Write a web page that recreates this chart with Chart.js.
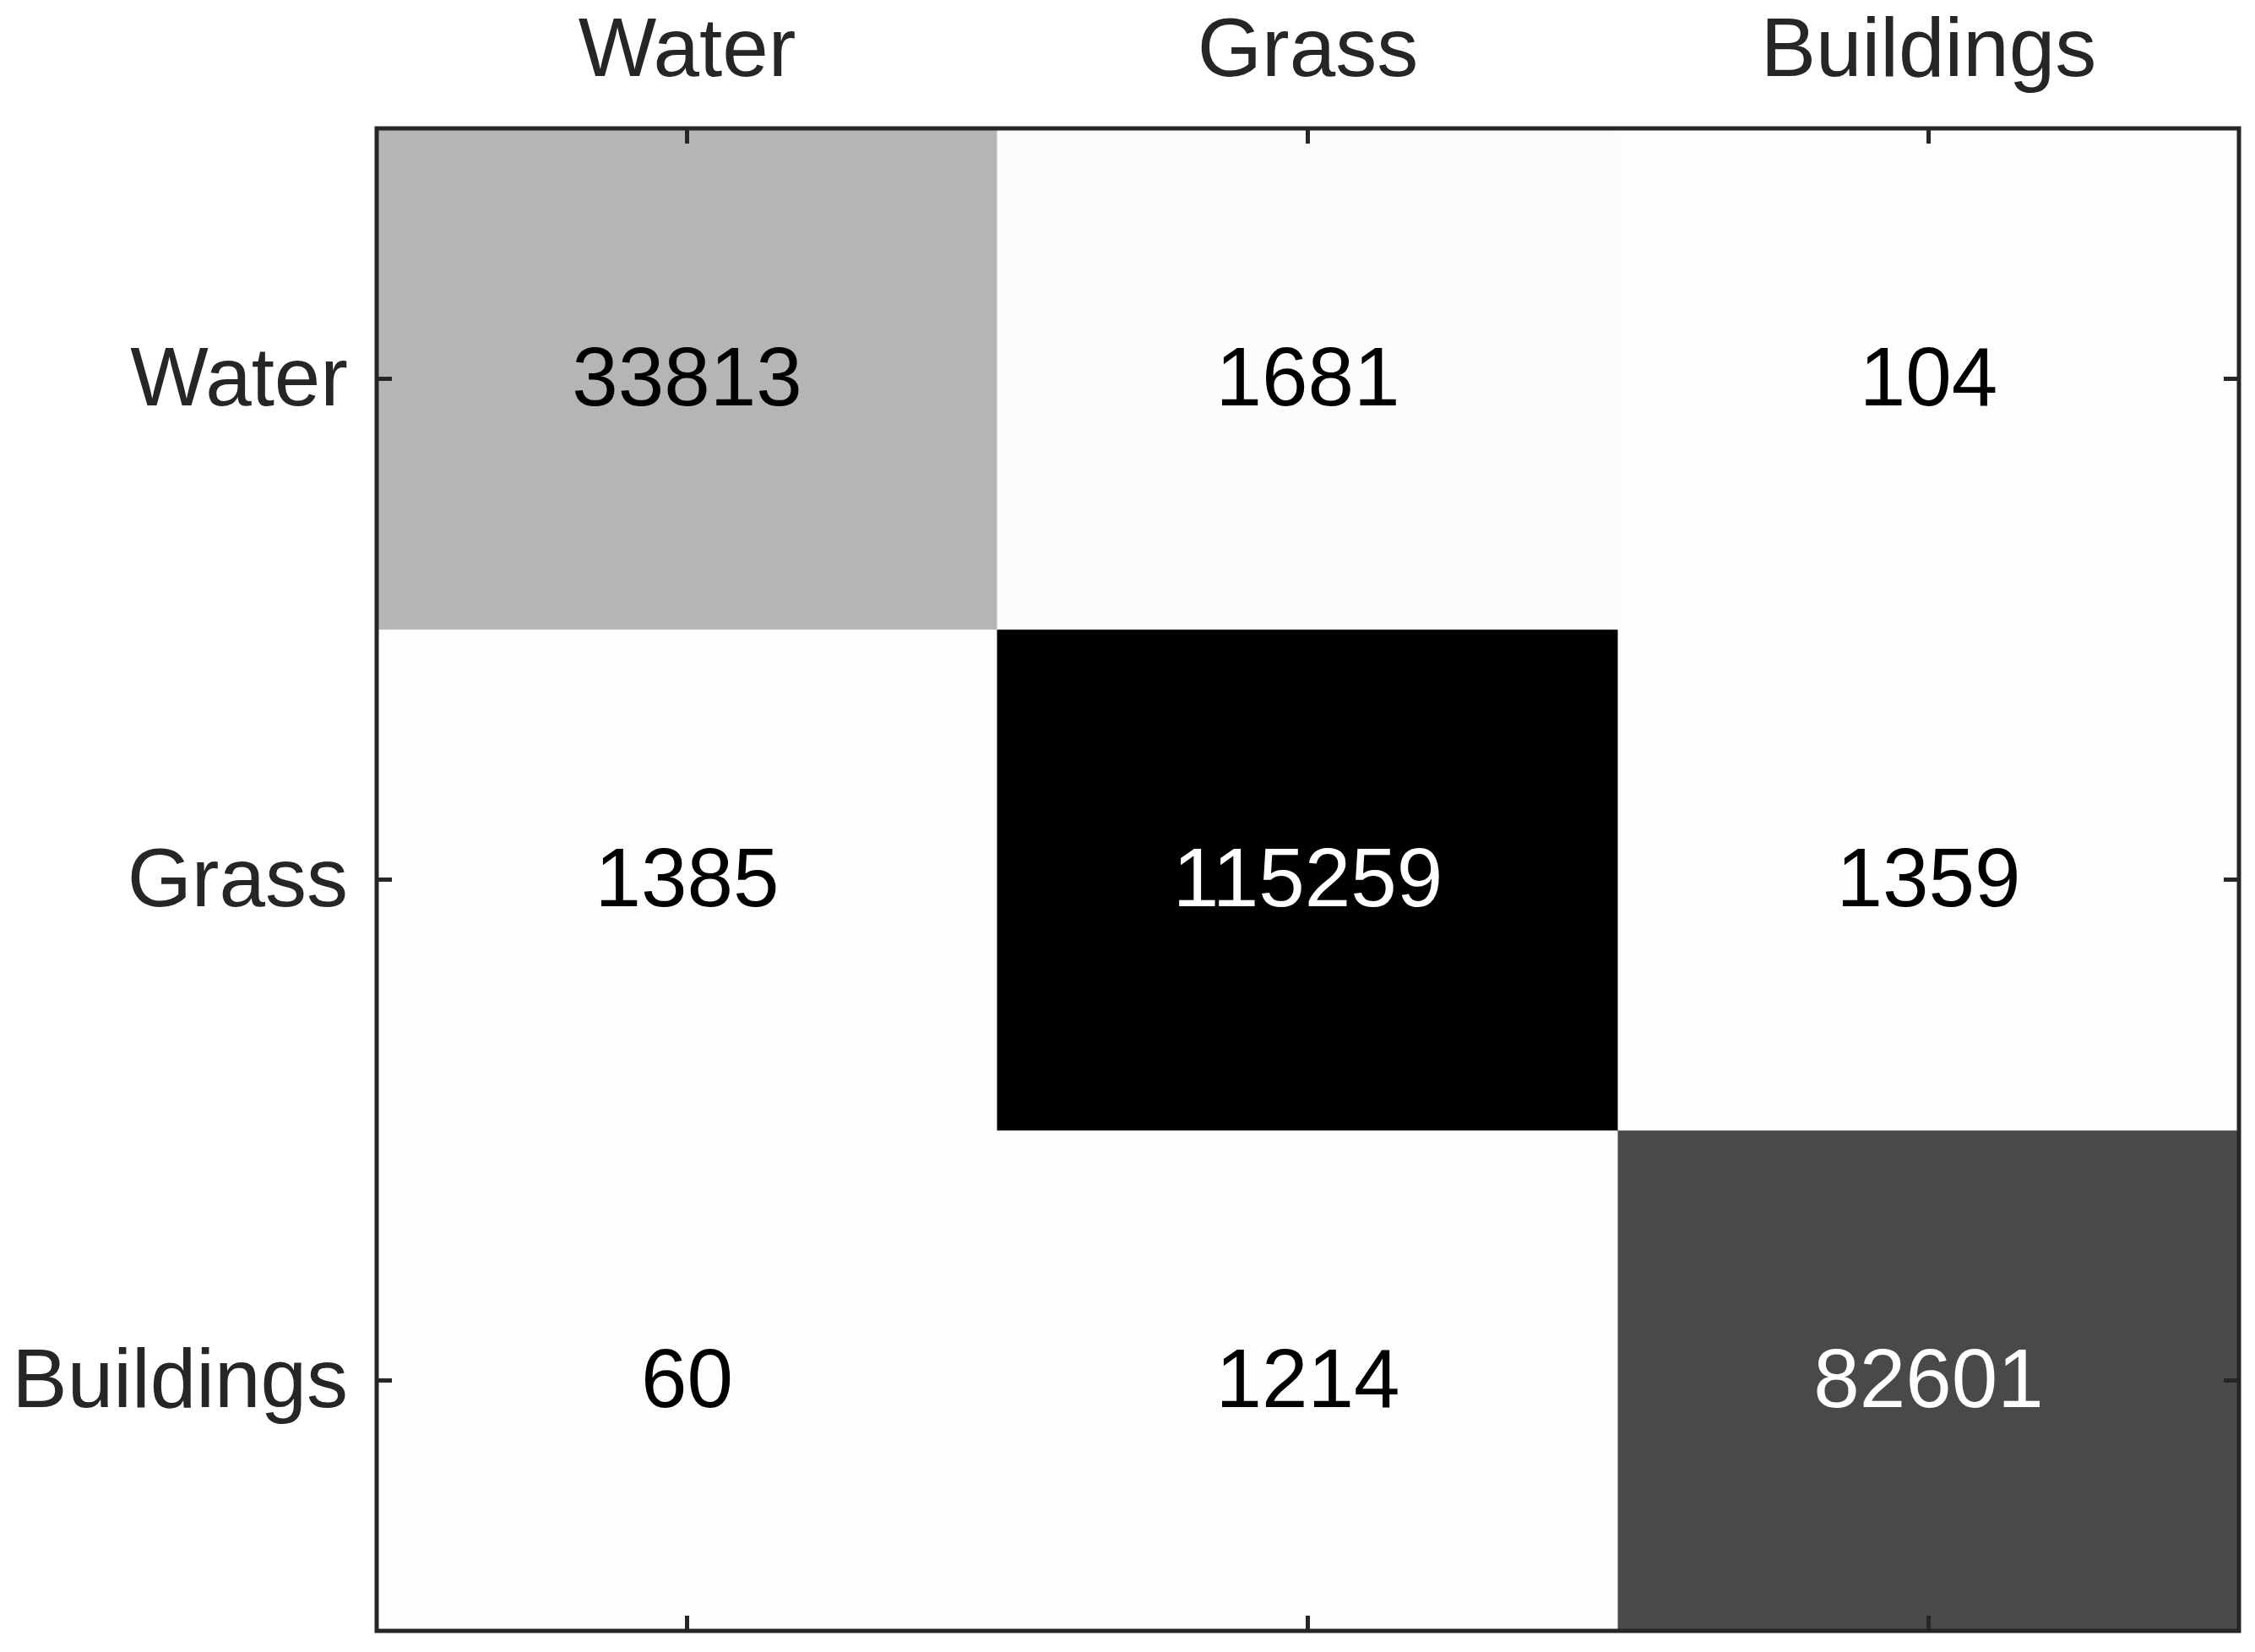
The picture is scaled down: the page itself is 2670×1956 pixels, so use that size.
<!DOCTYPE html>
<html>
<head>
<meta charset="utf-8">
<script src="https://cdn.jsdelivr.net/npm/chart.js@4/dist/chart.umd.min.js"></script>
<style>
html,body{margin:0;padding:0;background:#fff;}
canvas{display:block;}
</style>
</head>
<body>
<canvas id="c" width="2670" height="1956"></canvas>
<script>
// ---- data ----
const categories = ['Water', 'Grass', 'Buildings'];
const rowWater = [33813, 1681, 104];
const rowGrass = [1385, 115259, 1359];
const rowBuildings = [60, 1214, 82601];
const rows = [rowWater, rowGrass, rowBuildings];

const maxVal = Math.max(...rows.flat());
function shade(v) {
  const g = Math.min(253, Math.round(255 * (1 - v / maxVal)) + 1);
  return 'rgb(' + g + ',' + g + ',' + g + ')';
}

const datasets = rows.map((row, r) => ({
  label: categories[r],
  data: row.map(() => 1),
  values: row,
  backgroundColor: row.map(shade),
  borderWidth: 0,
  barPercentage: 1,
  categoryPercentage: 1,
  inflateAmount: 0.5
}));

const AX = '#262626';
const FONT = '"Liberation Sans", Arial, Helvetica, sans-serif';

const overlay = {
  id: 'overlay',
  afterDatasetsDraw(chart) {
    const ctx = chart.ctx;
    const a = chart.chartArea;
    // cell values
    ctx.save();
    ctx.font = '98px ' + FONT;
    ctx.textAlign = 'center';
    ctx.textBaseline = 'middle';
    chart.data.datasets.forEach((ds, di) => {
      const meta = chart.getDatasetMeta(di);
      meta.data.forEach((el, i) => {
        const v = ds.values[i];
        const g = 255 * (1 - v / maxVal);
        ctx.fillStyle = g < 110 ? '#ffffff' : '#000000';
        const cy = (el.y + el.base) / 2;
        ctx.fillText(String(v), el.x, cy + 4);
      });
    });
    ctx.restore();
    // frame and ticks
    ctx.save();
    ctx.strokeStyle = AX;
    ctx.lineWidth = 5;
    ctx.strokeRect(a.left, a.top, a.right - a.left, a.bottom - a.top);
    const L = 18;
    const xs = chart.scales.x, ys = chart.scales.y;
    ctx.beginPath();
    xs.ticks.forEach((t, i) => {
      const x = xs.getPixelForTick(i);
      ctx.moveTo(x, a.top); ctx.lineTo(x, a.top + L);
      ctx.moveTo(x, a.bottom); ctx.lineTo(x, a.bottom - L);
    });
    ys.ticks.forEach((t, i) => {
      const y = ys.getPixelForTick(i);
      ctx.moveTo(a.left, y); ctx.lineTo(a.left + L, y);
      ctx.moveTo(a.right, y); ctx.lineTo(a.right - L, y);
    });
    ctx.stroke();
    ctx.restore();
  }
};

function noPad(s) {
  s.paddingTop = 0; s.paddingBottom = 0; s.paddingLeft = 0; s.paddingRight = 0;
}

new Chart(document.getElementById('c'), {
  type: 'bar',
  data: { labels: categories, datasets: datasets },
  options: {
    responsive: false,
    animation: false,
    events: [],
    layout: { padding: { left: 0, top: 0, right: 19, bottom: 25 } },
    plugins: { legend: { display: false }, tooltip: { enabled: false } },
    scales: {
      x: {
        type: 'category',
        position: 'top',
        stacked: true,
        grid: { display: false, drawTicks: false },
        border: { display: false },
        ticks: { color: AX, font: { family: FONT, size: 98 }, padding: 30, maxRotation: 0, autoSkip: false },
        afterFit(s) { s.height = 152; noPad(s); }
      },
      y: {
        type: 'linear',
        stacked: true,
        min: 0,
        max: 3,
        reverse: true,
        grid: { display: false, drawTicks: false },
        border: { display: false },
        afterBuildTicks(s) { s.ticks = [0.5, 1.5, 2.5].map(v => ({ value: v })); },
        ticks: {
          color: AX,
          font: { family: FONT, size: 98 },
          padding: 34,
          labelOffset: 4,
          callback: (v) => categories[Math.floor(v)]
        },
        afterFit(s) { s.width = 446; noPad(s); }
      }
    }
  },
  plugins: [overlay]
});
</script>
</body>
</html>
